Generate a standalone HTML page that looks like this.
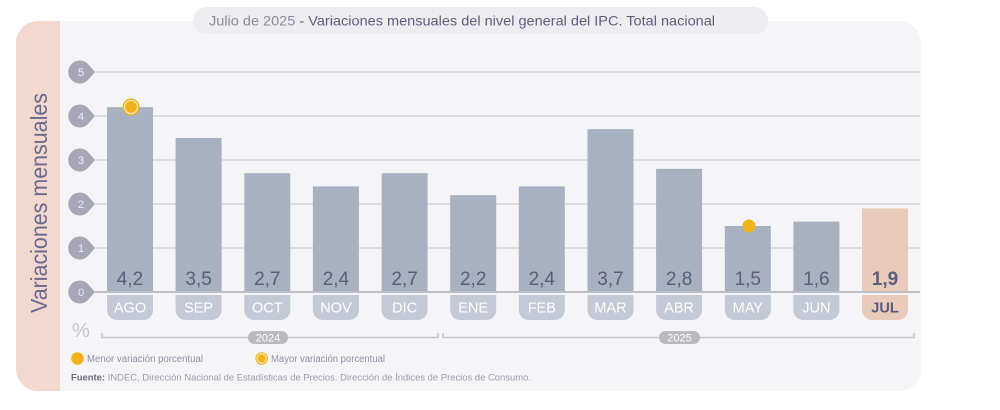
<!DOCTYPE html>
<html><head><meta charset="utf-8"><style>
html,body{margin:0;padding:0;background:#fff;width:1000px;height:410px;overflow:hidden}
svg{display:block;font-family:"Liberation Sans",Arial,sans-serif}
</style></head><body>
<svg width="1000" height="410" viewBox="0 0 1000 410" xmlns="http://www.w3.org/2000/svg">
<!-- card -->
<rect x="16" y="21" width="905" height="370" rx="22" fill="#f5f5f8"/>
<path d="M38 21 H60 V391 H38 A22 22 0 0 1 16 369 V43 A22 22 0 0 1 38 21 Z" fill="#f2d8cf"/>
<!-- title pill -->
<rect x="193" y="7" width="575" height="27" rx="13.5" fill="#ececf1"/>
<text x="209" y="25.5" font-size="14" fill="#8a8aa0" textLength="506" lengthAdjust="spacingAndGlyphs">Julio de 2025 <tspan fill="#5e5e7c">- Variaciones mensuales del nivel general del IPC. Total nacional</tspan></text>
<!-- axis title -->
<text transform="translate(47,203) rotate(-90)" text-anchor="middle" font-size="23" fill="#6a6a8c" textLength="220" lengthAdjust="spacingAndGlyphs">Variaciones mensuales</text>
<!-- gridlines -->
<g stroke="#d3d3da" stroke-width="1.5">
<line x1="95" y1="72" x2="920" y2="72"/>
<line x1="95" y1="116" x2="920" y2="116"/>
<line x1="95" y1="160" x2="920" y2="160"/>
<line x1="95" y1="204" x2="920" y2="204"/>
<line x1="95" y1="248" x2="920" y2="248"/>
</g>
<!-- tick markers -->
<g fill="#a5a7b9">
<path d="M95 72 L88 64 A11.5 11.5 0 1 0 88 80 Z"/>
<path d="M95 116 L88 108 A11.5 11.5 0 1 0 88 124 Z"/>
<path d="M95 160 L88 152 A11.5 11.5 0 1 0 88 168 Z"/>
<path d="M95 204 L88 196 A11.5 11.5 0 1 0 88 212 Z"/>
<path d="M95 248 L88 240 A11.5 11.5 0 1 0 88 256 Z"/>
<path d="M95 292 L88 284 A11.5 11.5 0 1 0 88 300 Z"/>
</g>
<g fill="#eeeef4" font-size="11" text-anchor="middle">
<text x="81" y="76">5</text><text x="81" y="120">4</text><text x="81" y="164">3</text>
<text x="81" y="208">2</text><text x="81" y="252">1</text><text x="81" y="296">0</text>
</g>
<!-- bars -->
<g fill="#a7b1bf">
<rect x="107" y="107.2" width="46" height="184.8"/>
<rect x="175.6" y="138" width="46" height="154"/>
<rect x="244.3" y="173.2" width="46" height="118.8"/>
<rect x="312.9" y="186.4" width="46" height="105.6"/>
<rect x="381.6" y="173.2" width="46" height="118.8"/>
<rect x="450.2" y="195.2" width="46" height="96.8"/>
<rect x="518.8" y="186.4" width="46" height="105.6"/>
<rect x="587.5" y="129.2" width="46" height="162.8"/>
<rect x="656.1" y="168.8" width="46" height="123.2"/>
<rect x="724.8" y="226" width="46" height="66"/>
<rect x="793.4" y="221.6" width="46" height="70.4"/>
</g>
<rect x="862" y="208.4" width="46" height="83.6" fill="#e9cbbb"/>
<!-- zero line -->
<line x1="95" y1="292" x2="920" y2="292" stroke="#bdbdc5" stroke-width="2"/>
<!-- values -->
<g fill="#5d5d7b" font-size="19" text-anchor="middle">
<text x="130" y="285">4,2</text>
<text x="198.6" y="285">3,5</text>
<text x="267.3" y="285">2,7</text>
<text x="335.9" y="285">2,4</text>
<text x="404.6" y="285">2,7</text>
<text x="473.2" y="285">2,2</text>
<text x="541.8" y="285">2,4</text>
<text x="610.5" y="285">3,7</text>
<text x="679.1" y="285">2,8</text>
<text x="747.8" y="285">1,5</text>
<text x="816.4" y="285">1,6</text>
<text x="885" y="285" font-weight="bold">1,9</text>
</g>
<!-- month pills -->
<g fill="#c4c9d6">
<path d="M107 295 H153 V310 A10 10 0 0 1 143 320 H117 A10 10 0 0 1 107 310 Z"/>
<path d="M175.6 295 H221.6 V310 A10 10 0 0 1 211.6 320 H185.6 A10 10 0 0 1 175.6 310 Z"/>
<path d="M244.3 295 H290.3 V310 A10 10 0 0 1 280.3 320 H254.3 A10 10 0 0 1 244.3 310 Z"/>
<path d="M312.9 295 H358.9 V310 A10 10 0 0 1 348.9 320 H322.9 A10 10 0 0 1 312.9 310 Z"/>
<path d="M381.6 295 H427.6 V310 A10 10 0 0 1 417.6 320 H391.6 A10 10 0 0 1 381.6 310 Z"/>
<path d="M450.2 295 H496.2 V310 A10 10 0 0 1 486.2 320 H460.2 A10 10 0 0 1 450.2 310 Z"/>
<path d="M518.8 295 H564.8 V310 A10 10 0 0 1 554.8 320 H528.8 A10 10 0 0 1 518.8 310 Z"/>
<path d="M587.5 295 H633.5 V310 A10 10 0 0 1 623.5 320 H597.5 A10 10 0 0 1 587.5 310 Z"/>
<path d="M656.1 295 H702.1 V310 A10 10 0 0 1 692.1 320 H666.1 A10 10 0 0 1 656.1 310 Z"/>
<path d="M724.8 295 H770.8 V310 A10 10 0 0 1 760.8 320 H734.8 A10 10 0 0 1 724.8 310 Z"/>
<path d="M793.4 295 H839.4 V310 A10 10 0 0 1 829.4 320 H803.4 A10 10 0 0 1 793.4 310 Z"/>
</g>
<path d="M862 295 H908 V310 A10 10 0 0 1 898 320 H872 A10 10 0 0 1 862 310 Z" fill="#e9cbbb"/>
<g fill="#ffffff" font-size="14.5" text-anchor="middle">
<text x="130" y="312.5">AGO</text>
<text x="198.6" y="312.5">SEP</text>
<text x="267.3" y="312.5">OCT</text>
<text x="335.9" y="312.5">NOV</text>
<text x="404.6" y="312.5">DIC</text>
<text x="473.2" y="312.5">ENE</text>
<text x="541.8" y="312.5">FEB</text>
<text x="610.5" y="312.5">MAR</text>
<text x="679.1" y="312.5">ABR</text>
<text x="747.8" y="312.5">MAY</text>
<text x="816.4" y="312.5">JUN</text>
<text x="885" y="312.5" fill="#5a5a7a" font-weight="bold">JUL</text>
</g>
<!-- markers -->
<circle cx="131" cy="107" r="8.5" fill="#efb21d"/>
<circle cx="131" cy="107" r="6.5" fill="none" stroke="#fbe6b0" stroke-width="1.3"/>
<circle cx="749" cy="226" r="6.5" fill="#efb21d"/>
<!-- % -->
<text x="72" y="337" font-size="20" fill="#c4c4d0">%</text>
<!-- year brackets -->
<g stroke="#c5c5cc" stroke-width="1.5" fill="none">
<path d="M102 333 V337.5 H438 V333"/>
<path d="M443 333 V337.5 H914 V333"/>
</g>
<rect x="248" y="331" width="40" height="13" rx="6.5" fill="#b9b9bf"/>
<rect x="659" y="331" width="41" height="13" rx="6.5" fill="#b9b9bf"/>
<g fill="#ffffff" font-size="11" text-anchor="middle">
<text x="268" y="341.5">2024</text>
<text x="679.5" y="341.5">2025</text>
</g>
<!-- legend -->
<circle cx="77.5" cy="358.5" r="6.3" fill="#efb21d"/>
<text x="87" y="362" font-size="10" fill="#8f8fa2" textLength="116" lengthAdjust="spacingAndGlyphs">Menor variación porcentual</text>
<circle cx="261.7" cy="358.5" r="6.3" fill="#efb21d"/>
<circle cx="261.7" cy="358.5" r="4.6" fill="none" stroke="#fbe6b0" stroke-width="1.2"/>
<text x="271" y="362" font-size="10" fill="#8f8fa2" textLength="114" lengthAdjust="spacingAndGlyphs">Mayor variación porcentual</text>
<text x="71" y="380.5" font-size="9.5" fill="#9a9aab" textLength="460" lengthAdjust="spacingAndGlyphs"><tspan font-weight="bold" fill="#6c6c84">Fuente:</tspan> INDEC, Dirección Nacional de Estadísticas de Precios. Dirección de Índices de Precios de Consumo.</text>
</svg>
</body></html>
